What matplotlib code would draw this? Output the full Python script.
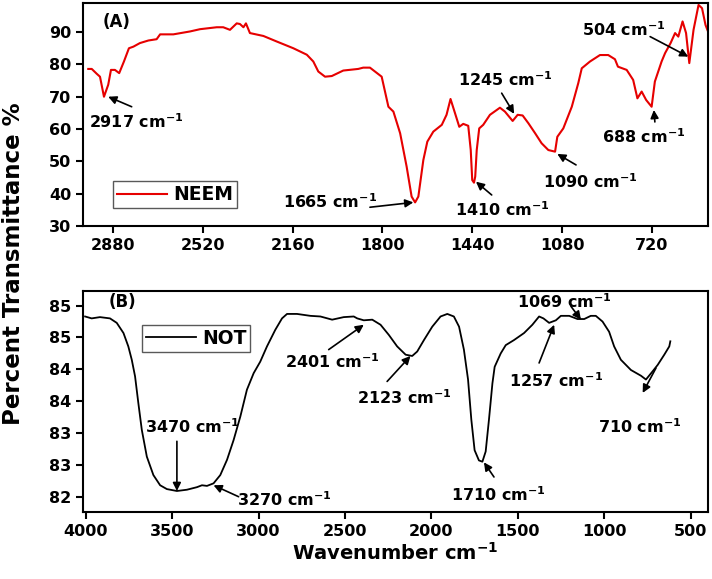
import numpy as np
import matplotlib
matplotlib.use("Agg")
import matplotlib.pyplot as plt
from matplotlib.ticker import FuncFormatter

# (A) NEEM spectrum
neem_wn = [2979, 2965, 2945, 2932, 2916, 2899, 2888, 2872, 2855, 2836, 2816,
           2798, 2772, 2738, 2705, 2691, 2638, 2571, 2531, 2464, 2438, 2411,
           2384, 2371, 2357, 2347, 2331, 2277, 2224, 2157, 2103, 2077, 2057,
           2030, 2003, 1957, 1897, 1877, 1850, 1803, 1776, 1756, 1729, 1703,
           1683, 1669, 1656, 1636, 1620, 1596, 1562, 1543, 1527, 1509, 1492,
           1476, 1456, 1446, 1440, 1433, 1428, 1422, 1412, 1396, 1369, 1329,
           1309, 1278, 1258, 1238, 1215, 1188, 1162, 1135, 1108, 1099, 1075,
           1041, 1015, 1001, 968, 928, 895, 868, 856, 821, 795, 778, 761, 743,
           721, 708, 681, 667, 645, 627, 614, 597, 583, 570, 553, 533, 519,
           505, 495]
neem_t = [78.6, 78.6, 77.1, 76.2, 70.0, 73.7, 78.3, 78.3, 77.3, 80.9, 85.0,
          85.5, 86.6, 87.4, 87.8, 89.3, 89.3, 90.2, 90.9, 91.5, 91.5, 90.7,
          92.7, 92.5, 91.5, 92.7, 89.7, 88.8, 87.1, 85.0, 83.0, 80.9, 77.8,
          76.2, 76.4, 78.1, 78.6, 79.0, 79.0, 76.2, 66.9, 65.4, 58.7, 48.4,
          39.1, 37.3, 39.1, 50.4, 56.1, 59.2, 61.3, 64.4, 69.3, 64.9, 60.7,
          61.6, 61.0, 53.5, 44.2, 43.4, 45.3, 53.5, 60.2, 61.3, 64.4, 66.6,
          65.4, 62.5, 64.4, 64.2, 61.8, 58.7, 55.6, 53.5, 53.0, 57.6, 60.2,
          66.9, 74.2, 78.8, 80.9, 82.9, 82.9, 81.6, 79.3, 78.3, 75.2, 69.5,
          71.6, 69.0, 66.9, 74.7, 80.9, 83.5, 86.6, 89.7, 88.6, 93.3, 89.7,
          80.4, 90.7, 98.4, 97.4, 92.2, 90.2]

# (B) NOT spectrum
not_wn = [4003, 3965, 3917, 3859, 3820, 3781, 3753, 3733, 3714, 3695, 3675,
          3646, 3608, 3569, 3530, 3472, 3414, 3356, 3327, 3298, 3260, 3221,
          3182, 3144, 3105, 3067, 3028, 2990, 2951, 2903, 2864, 2835, 2777,
          2700, 2642, 2574, 2507, 2449, 2429, 2391, 2342, 2294, 2246, 2198,
          2149, 2111, 2082, 2043, 1995, 1947, 1908, 1870, 1840, 1812, 1788,
          1769, 1750, 1725, 1705, 1686, 1667, 1647, 1634, 1599, 1570, 1522,
          1464, 1416, 1377, 1352, 1319, 1280, 1251, 1203, 1155, 1116, 1078,
          1049, 1010, 972, 943, 904, 846, 788, 759, 720, 691, 653, 624, 618]
not_t = [85.33, 85.30, 85.32, 85.30, 85.23, 85.07, 84.86, 84.65, 84.39, 83.97,
         83.55, 83.13, 82.84, 82.68, 82.62, 82.59, 82.61, 82.65, 82.68, 82.67,
         82.71, 82.84, 83.08, 83.39, 83.76, 84.18, 84.44, 84.62, 84.86, 85.12,
         85.30, 85.37, 85.37, 85.34, 85.33, 85.28, 85.32, 85.33, 85.30, 85.27,
         85.28, 85.20, 85.04, 84.86, 84.73, 84.71, 84.78, 84.96, 85.17, 85.33,
         85.37, 85.33, 85.17, 84.81, 84.34, 83.71, 83.23, 83.07, 83.05, 83.21,
         83.71, 84.28, 84.54, 84.75, 84.88, 84.96, 85.07, 85.20, 85.33, 85.30,
         85.23, 85.27, 85.34, 85.34, 85.29, 85.29, 85.34, 85.34, 85.25, 85.09,
         84.86, 84.65, 84.49, 84.40, 84.34, 84.47, 84.57, 84.73, 84.86, 84.94]

# peak labels: (text, text x, text y, arrow tail, arrow head)
neem_labels = ["2917", "1665", "1410", "1245", "1090", "688", "504"]
neem_text_xy = [(2976, 62.2), (2198, 37.4), (1509, 35.0), (1497, 75.2),
                (1156, 43.7), (921, 57.6), (1001, 90.7)]
neem_arrow_from = [(2805, 66.9), (1850, 35.8), (1362, 39.6), (1322, 71.1),
                   (1024, 48.9), (708, 62.2), (727, 88.6)]
neem_arrow_to = [(2899, 70.0), (1676, 37.3), (1425, 43.7), (1272, 64.7),
                 (1099, 52.3), (712, 65.9), (574, 82.4)]

not_labels = ["3470", "3270", "2401", "2123", "1710", "1257", "1069", "710"]
not_text_xy = [(3656, 83.60), (3125, 82.45), (2845, 84.62), (2429, 84.05),
               (1889, 82.53), (1551, 84.33), (1502, 85.57), (1039, 83.60)]
not_arrow_from = [(3472, 83.37), (3115, 82.50), (2594, 84.81), (2256, 84.31),
                  (1638, 82.81), (1377, 84.60), (1193, 85.49), (701, 84.52)]
not_arrow_to = [(3472, 82.59), (3260, 82.68), (2391, 85.20), (2121, 84.71),
                (1696, 83.04), (1290, 85.20), (1135, 85.28), (778, 84.13)]

plt.rcParams["font.family"] = ["DejaVu Sans"]
plt.rcParams["font.weight"] = "bold"
plt.rcParams["mathtext.default"] = "bf"
plt.rcParams["axes.linewidth"] = 1.5

fig = plt.figure(figsize=(7.12, 5.79), dpi=100)
ax1 = fig.add_axes([0.1166, 0.6097, 0.8778, 0.3851])
ax2 = fig.add_axes([0.1166, 0.1157, 0.8778, 0.3817])


def add_labels(ax, labels, text_xy, arr_from, arr_to):
    for lab, txy, a0, a1 in zip(labels, text_xy, arr_from, arr_to):
        ax.text(txy[0], txy[1], lab + r" cm$^{-1}$", fontsize=11.5,
                fontweight="bold", ha="left", va="center")
        ax.annotate("", xy=a1, xytext=a0,
                    arrowprops=dict(arrowstyle="-|>", color="black", lw=1.2,
                                    mutation_scale=12, shrinkA=0, shrinkB=0))


def box_legend(ax, anchor):
    leg = ax.legend(loc="lower left", bbox_to_anchor=anchor,
                    borderaxespad=0, fancybox=False, edgecolor="0.35",
                    framealpha=1, handlelength=2.7, borderpad=0.2,
                    handletextpad=0.3, prop=dict(size=13.5, weight="bold"))
    leg.get_frame().set_linewidth(1.0)
    return leg


# top panel
ax1.plot(neem_wn, neem_t, color="#e60000", lw=1.5, label="NEEM")
ax1.set_xlim(3000, 495)
ax1.set_ylim(30, 99)
ax1.set_xticks([2880, 2520, 2160, 1800, 1440, 1080, 720])
ax1.set_yticks([30, 40, 50, 60, 70, 80, 90])
ax1.text(2864, 93.2, "(A)", fontsize=12, fontweight="bold",
         ha="center", va="center")
add_labels(ax1, neem_labels, neem_text_xy, neem_arrow_from, neem_arrow_to)
box_legend(ax1, (0.048, 0.081))

# bottom panel
ax2.plot(not_wn, not_t, color="black", lw=1.3, label="NOT")
ax2.set_xlim(4015, 400)
ax2.set_ylim(82.26, 85.73)
ax2.set_xticks([4000, 3500, 3000, 2500, 2000, 1500, 1000, 500])
ax2.set_yticks([82.5, 83.0, 83.5, 84.0, 84.5, 85.0, 85.5])
ax2.yaxis.set_major_formatter(FuncFormatter(lambda v, p: f"{int(v)}"))
ax2.text(3786, 85.55, "(B)", fontsize=12, fontweight="bold",
         ha="center", va="center")
add_labels(ax2, not_labels, not_text_xy, not_arrow_from, not_arrow_to)
box_legend(ax2, (0.094, 0.725))
ax2.set_xlabel(r"Wavenumber cm$^{-1}$", fontsize=14, fontweight="bold",
               labelpad=2)

for ax in (ax1, ax2):
    ax.tick_params(direction="out", length=5, width=1.5, labelsize=11.5)
    for lab in ax.get_xticklabels() + ax.get_yticklabels():
        lab.set_fontweight("bold")

fig.text(0.019, 0.544, "Percent Transmittance %", rotation=90, fontsize=16.5,
         fontweight="bold", ha="center", va="center")

plt.savefig("out.png", dpi=100)
plt.close()
